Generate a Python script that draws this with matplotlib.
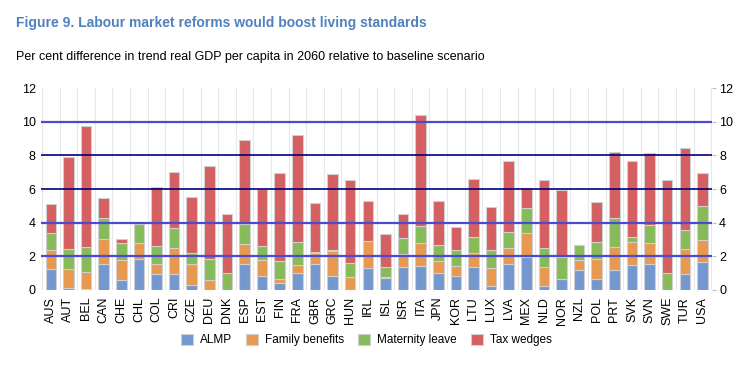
import numpy as np
import matplotlib.pyplot as plt

countries = ["AUS", "AUT", "BEL", "CAN", "CHE", "CHL", "COL", "CRI", "CZE", "DEU",
             "DNK", "ESP", "EST", "FIN", "FRA", "GBR", "GRC", "HUN", "IRL", "ISL",
             "ISR", "ITA", "JPN", "KOR", "LTU", "LUX", "LVA", "MEX", "NLD", "NOR",
             "NZL", "POL", "PRT", "SVK", "SVN", "SWE", "TUR", "USA"]

almp = [1.23, 0.12, 0.05, 1.53, 0.58, 1.85, 0.97, 0.97, 0.32, 0.0,
        0.0, 1.53, 0.85, 0.40, 0.99, 1.53, 0.85, 0.0, 1.29, 0.71,
        1.35, 1.43, 1.03, 0.85, 1.35, 0.26, 1.57, 1.96, 0.26, 0.65,
        1.21, 0.65, 1.21, 1.47, 1.53, 0.02, 0.93, 1.65]
family = [1.15, 1.15, 1.00, 1.47, 1.17, 0.95, 0.58, 1.55, 1.25, 0.58,
          0.0, 1.19, 0.92, 0.23, 0.48, 0.69, 1.45, 0.79, 1.60, 0.04,
          0.77, 1.35, 0.66, 0.58, 0.87, 1.03, 0.91, 1.41, 1.11, 0.0,
          0.56, 1.20, 1.37, 1.37, 1.25, 0.0, 1.49, 1.33]
maternity = [1.03, 1.15, 1.50, 1.25, 1.05, 1.13, 1.09, 1.15, 0.60, 1.23,
             1.03, 1.21, 0.83, 1.08, 1.37, 0.05, 0.05, 0.82, 0.03, 0.60,
             0.96, 1.03, 0.97, 0.93, 0.95, 1.07, 0.95, 1.49, 1.11, 1.33,
             0.89, 0.99, 1.69, 0.29, 1.07, 0.97, 1.17, 2.00]
tax = [1.67, 5.48, 7.20, 1.19, 0.22, 0.0, 3.45, 3.37, 3.36, 5.53,
       3.51, 4.96, 3.41, 5.23, 6.39, 2.90, 4.52, 4.90, 2.34, 2.00,
       1.42, 6.59, 2.64, 1.39, 3.40, 2.58, 4.23, 1.19, 4.07, 3.99,
       0.0, 2.40, 3.92, 4.51, 4.27, 5.52, 4.86, 2.00]

series = [("ALMP", almp, "#7497cf"),
          ("Family benefits", family, "#e8994f"),
          ("Maternity leave", maternity, "#87bb5a"),
          ("Tax wedges", tax, "#d55f61")]

plt.rcParams['font.family'] = ['Liberation Sans', 'DejaVu Sans']

fig = plt.figure(figsize=(7.48, 3.78), dpi=100)
ax = fig.add_axes([0.055, 0.233, 0.897, 0.534])

x = np.arange(len(countries))
bottom = np.zeros(len(countries))
for name, vals, col in series:
    vals = np.array(vals)
    ax.bar(x, vals, 0.6, bottom=bottom, color=col, edgecolor="#d0d0d0",
           linewidth=0.8, label=name, zorder=2)
    bottom += vals

# horizontal reference lines over the bars
for yv in [2, 4, 10]:
    ax.axhline(yv, color="#4a4ad2", lw=1.6, zorder=3)
for yv in [6, 8]:
    ax.axhline(yv, color="#00007a", lw=1.2, zorder=3)

# light vertical separators between countries
for xv in np.arange(-0.5, len(countries), 1.0):
    ax.axvline(xv, color="#e8e8e8", lw=0.8, zorder=1)

ax.set_xlim(-0.55, len(countries) - 0.45)
ax.set_ylim(0, 12)
ax.set_yticks(range(0, 13, 2))
ax.set_xticks(x)
ax.set_xticklabels(countries, rotation=90, fontsize=9)
ax.tick_params(axis="x", length=0, pad=5)
ax.tick_params(axis="y", length=0, labelsize=9, pad=4)
for s in ax.spines.values():
    s.set_visible(False)

ax2 = ax.twinx()
ax2.set_ylim(0, 12)
ax2.set_yticks(range(0, 13, 2))
ax2.tick_params(axis="y", length=3, color="#c0c0c0", labelsize=9, pad=2)
for s in ax2.spines.values():
    s.set_visible(False)

fig.text(0.021, 0.939, "Figure 9. Labour market reforms would boost living standards",
         fontsize=10, fontweight="bold", color="#4f81bd", va="center")
fig.text(0.021, 0.849, "Per cent difference in trend real GDP per capita in 2060 relative to baseline scenario",
         fontsize=9, color="black", va="center")

handles, labels = ax.get_legend_handles_labels()
fig.legend(handles, labels, loc="center", bbox_to_anchor=(0.49, 0.1), ncol=4,
           frameon=False, fontsize=8.5, handlelength=1.0, handleheight=1.0,
           columnspacing=1.2, handletextpad=0.6)

fig.savefig("out.png", dpi=100)
